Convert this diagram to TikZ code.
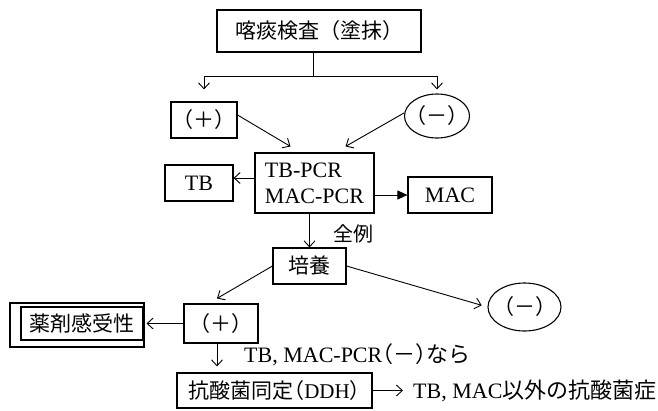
\documentclass[tikz,border=0pt]{standalone}
\usepackage{fontspec}
\setmainfont{Liberation Serif}
\newfontfamily\jp{Noto Sans CJK JP}
\newfontfamily\jph[RawFeature=+halt]{Noto Sans CJK JP}
\usetikzlibrary{arrows.meta,shapes.geometric}
\begin{document}
\begin{tikzpicture}[x=1pt,y=-1pt,
  every node/.style={font=\fontsize{21}{26}\selectfont, inner sep=0pt},
  big/.style={font=\fontsize{22}{26}\selectfont},
  box/.style={draw, line width=1.1pt, rectangle},
  oval/.style={draw, line width=1.1pt, ellipse},
  arr/.style={line width=0.9pt, -{Straight Barb[length=6pt,width=11pt]}},
  farr/.style={line width=0.9pt, -{Triangle[length=10pt,width=9pt]}},
  plain/.style={line width=0.9pt}]
\useasboundingbox (0,0) rectangle (658,410);
% nodes
\node[box, minimum width=204pt, minimum height=42pt] (top) at (319,31) {\jp 喀痰検査（塗抹）};
\node[box, minimum width=66pt, minimum height=36pt] (pos1) at (204,120) {\jph （＋）};
\node[oval, minimum width=65pt, minimum height=44pt] (neg1) at (437,116) {\jph （－）};
\node[box, big, minimum width=119pt, minimum height=60pt, align=left] (pcr) at (314.5,183) {TB-PCR\\MAC-PCR};
\node[box, big, minimum width=68pt, minimum height=36pt] (tb) at (199,183) {TB};
\node[box, big, minimum width=84pt, minimum height=36pt] (mac) at (450,195) {MAC};
\node[box, minimum width=73pt, minimum height=36pt] (cult) at (309.5,266) {\jp 培養};
\node[font=\fontsize{20}{24}\selectfont] (all) at (353,234) {\jp 全例};
\node[box, minimum width=74pt, minimum height=39pt] (pos2) at (221,323.5) {\jph （＋）};
\node[oval, minimum width=73pt, minimum height=48pt] (neg2) at (524.5,307) {\jph （－）};
\node[box, minimum width=134pt, minimum height=44pt] (drugout) at (77,325) {};
\node[box, minimum width=122pt, minimum height=33pt] (drug) at (82,323.5) {\jp 薬剤感受性};
\node[anchor=west, big] (cond) at (244,354.5) {TB, MAC-PCR{\jph （－）}{\jp なら}};
\node[box, minimum width=195pt, minimum height=35pt] (ddh) at (274.5,390.5) {{\jp 抗酸菌同定}{\jph （}DDH{\jph ）}};
\node[anchor=west, big] (res) at (413,390.5) {TB, MAC{\jp 以外の抗酸菌症}};
% connectors
\coordinate (j) at (313,76);
\draw[plain] (top.south -| j) -- (j);
\draw[arr, shorten >=12pt] (j) -| (pos1.north);
\draw[arr, shorten >=4pt] (j) -| (neg1.north);
\draw[arr] ([yshift=5pt]pos1.east) -- ([xshift=-24pt,yshift=6pt]pcr.north);
\draw[arr] ([yshift=3pt]neg1.west) -- ([xshift=31pt,yshift=6pt]pcr.north);
\draw[arr] ([yshift=5pt]pcr.west) -- ([yshift=5pt]tb.east);
\draw[farr] ([yshift=-12pt]pcr.east) -- (mac.west);
\draw[arr] ([xshift=-5pt]pcr.south) -- (cult.north);
\draw[arr] (cult.west) -- ([xshift=-4pt,yshift=5pt]pos2.north);
\draw[arr, shorten >=6pt] (cult.east) -- (neg2.west);
\draw[arr, shorten >=3pt] (pos2.west) -- (drug.east);
\draw[arr, shorten >=6pt] ([xshift=-4pt]pos2.south) -- ([xshift=-4pt]pos2.south |- ddh.north);
\draw[arr, shorten >=10pt] (ddh.east) -- (res.west);
\end{tikzpicture}
\end{document}
